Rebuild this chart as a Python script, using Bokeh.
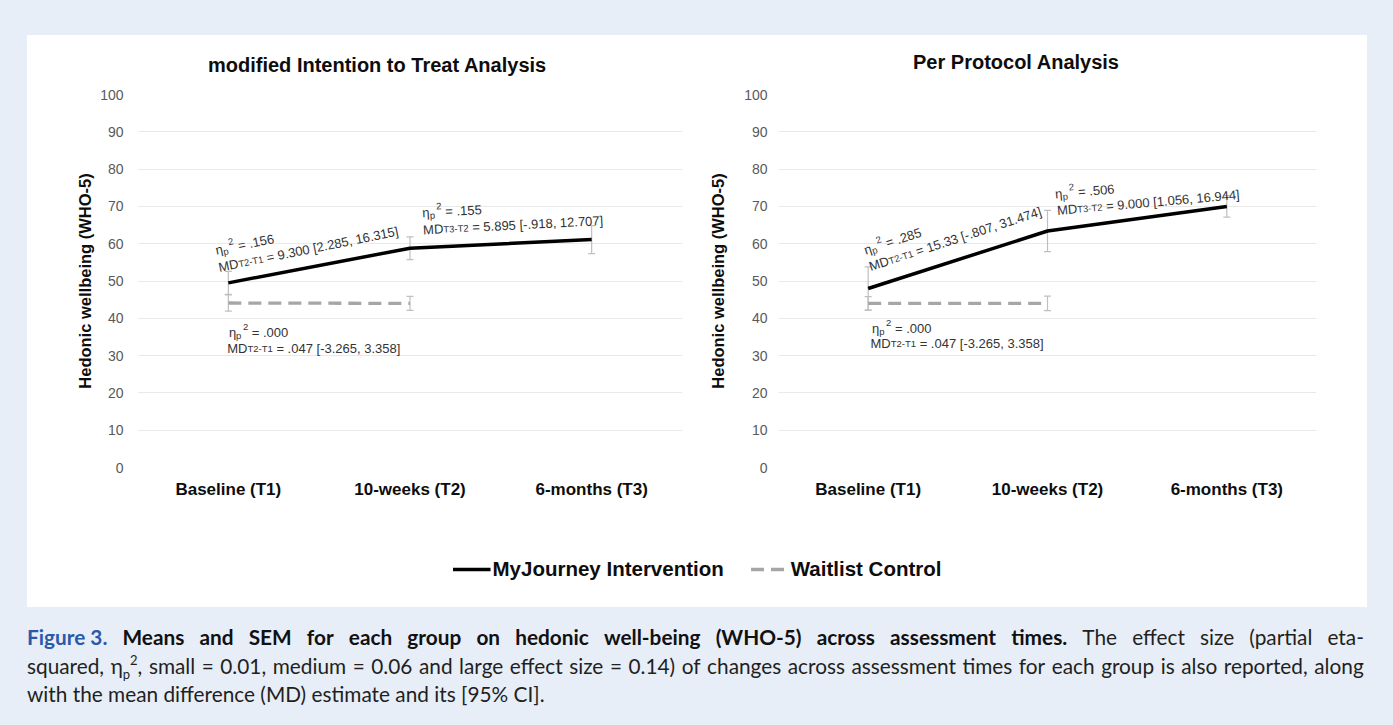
import math
from bokeh.plotting import figure
from bokeh.models import (FactorRange, Range1d, ColumnDataSource, Whisker, TeeHead,
                          FixedTicker, Legend, LegendItem, Div)
from bokeh.layouts import column, row
from bokeh.core.properties import value
from bokeh.embed import file_html
from bokeh.resources import INLINE

# ---------------- data ----------------
categories = ["Baseline (T1)", "10-weeks (T2)", "6-months (T3)"]
y_ticks = [0, 10, 20, 30, 40, 50, 60, 70, 80, 90, 100]

itt_title = "modified Intention to Treat Analysis"
itt_intervention_mean = [49.5, 58.8, 61.1]
itt_intervention_sem = [3.1, 3.05, 3.75]
itt_control_mean = [44.1, 44.0]
itt_control_sem = [2.2, 1.9]
itt_eta = [".156", ".155", ".000"]
itt_md_sub = ["T2-T1", "T3-T2", "T2-T1"]
itt_md = ["9.300 [2.285, 16.315]", "5.895 [-.918, 12.707]", ".047 [-3.265, 3.358]"]

pp_title = "Per Protocol Analysis"
pp_intervention_mean = [48.0, 63.4, 70.0]
pp_intervention_sem = [5.8, 5.55, 2.9]
pp_control_mean = [44.0, 44.0]
pp_control_sem = [1.8, 1.95]
pp_eta = [".285", ".506", ".000"]
pp_md_sub = ["T2-T1", "T3-T2", "T2-T1"]
pp_md = ["15.33 [-.807, 31.474]", "9.000 [1.056, 16.944]", ".047 [-3.265, 3.358]"]

series_names = ["MyJourney Intervention", "Waitlist Control"]

caption_lines = [
    [("Figure\u00a03.", "fig"),
     ("Means and SEM for each group on hedonic well-being (WHO-5) across assessment times.", "bold"),
     ("The effect size (partial eta-", "normal")],
    [("squared, ηp2, small = 0.01, medium = 0.06 and large effect size = 0.14) "
      "of changes across assessment times for each group is also reported, along", "normal")],
    [("with the mean difference (MD) estimate and its [95% CI].", "normal")],
]

# ---------------- styling / layout ----------------
FONT = "Liberation Sans"
PAGE_BG = "#e7eef8"
GRID = "#e9e9e9"
ERR = "#bfbfbf"
CTRL = "#a6a6a6"

ETA_HTML = ('η<span style="position:relative;top:5px;font-size:13px;">p</span>'
            '<span style="position:relative;top:-9px;font-size:13px;">2</span>,')

# annotation anchors: (eta_x, eta_y, md_x, md_y, angle_deg)
itt_annot_layout = [(0.430, 58.2, 0.446, 53.6, 11.5),
                    (1.568, 68.3, 1.572, 63.7, 3.0),
                    (0.503, 36.3, 0.494, 32.0, 0.0)]
pp_annot_layout = [(0.479, 58.2, 0.507, 53.8, 18.0),
                   (1.543, 73.3, 1.553, 68.9, 5.0),
                   (0.522, 37.3, 0.513, 33.3, 0.0)]

EM = {'M': 0.833, 'D': 0.722, 'T': 0.611, '1': 0.556, '2': 0.556, '3': 0.556,
      '-': 0.333, 'η': 0.556, 'p': 0.556, ' ': 0.278, '=': 0.584}


def text_width(s, size):
    return sum(EM.get(c, 0.556) for c in s) * size


def rich_text(p, x, y, angle_deg, segments, color="#333333"):
    th = math.radians(angle_deg)
    d = 0.0
    for txt, size, shift, pre in segments:
        d += pre
        xo = d * math.cos(th) + shift * math.sin(th)
        yo = -d * math.sin(th) + shift * math.cos(th)
        p.text(x=[x], y=[y], text=[txt], angle=th, x_offset=xo, y_offset=yo,
               text_font=value(FONT), text_font_size=f"{size}px",
               text_color=color, text_align="left", text_baseline="alphabetic")
        d += text_width(txt, size)


def make_panel(im, isem, cm, csem, etas, subs, mds, layout, borders,
               tick_standoff, label_standoff):
    bl, br, bt, bb = borders
    p = figure(x_range=FactorRange(factors=categories), y_range=Range1d(0, 100),
               width=670, height=451, output_backend="svg", toolbar_location=None,
               min_border_left=bl, min_border_right=br, min_border_top=bt,
               min_border_bottom=bb)
    p.background_fill_color = "white"
    p.border_fill_color = "white"
    p.outline_line_color = None

    p.xgrid.grid_line_color = None
    p.ygrid.grid_line_color = GRID
    p.ygrid.grid_line_width = 1
    p.yaxis.ticker = FixedTicker(ticks=y_ticks)

    for ax in (p.xaxis[0], p.yaxis[0]):
        ax.axis_line_color = None
        ax.major_tick_line_color = None
        ax.minor_tick_line_color = None
        ax.major_tick_out = 0
        ax.major_tick_in = 0
    p.yaxis.major_label_text_font = FONT
    p.yaxis.major_label_text_font_size = "14px"
    p.yaxis.major_label_text_color = "#595959"
    p.yaxis.major_label_standoff = tick_standoff
    p.yaxis.axis_label = "Hedonic wellbeing (WHO-5)"
    p.yaxis.axis_label_text_font = FONT
    p.yaxis.axis_label_text_font_size = "16.5px"
    p.yaxis.axis_label_text_font_style = "bold"
    p.yaxis.axis_label_text_color = "#0d0d0d"
    p.yaxis.axis_label_standoff = label_standoff
    p.xaxis.major_label_text_font = FONT
    p.xaxis.major_label_text_font_size = "17px"
    p.xaxis.major_label_text_font_style = "bold"
    p.xaxis.major_label_text_color = "#0d0d0d"
    p.xaxis.major_label_standoff = 12

    src_i = ColumnDataSource(dict(x=categories[:len(im)], y=im,
                                  upper=[m + s for m, s in zip(im, isem)],
                                  lower=[m - s for m, s in zip(im, isem)]))
    src_c = ColumnDataSource(dict(x=categories[:len(cm)], y=cm,
                                  upper=[m + s for m, s in zip(cm, csem)],
                                  lower=[m - s for m, s in zip(cm, csem)]))
    for src in (src_c, src_i):
        w = Whisker(source=src, base="x", upper="upper", lower="lower",
                    line_color=ERR, line_width=1.2, level="underlay",
                    upper_head=TeeHead(size=7, line_color=ERR, line_width=1.2),
                    lower_head=TeeHead(size=7, line_color=ERR, line_width=1.2))
        p.add_layout(w)

    p.line(x="x", y="y", source=src_c, line_color=CTRL, line_width=3.3,
           line_dash="13 7", line_cap="butt")
    p.line(x="x", y="y", source=src_i, line_color="black", line_width=3.5)

    sp13 = text_width(" ", 13)
    for eta, sub, md, (ex, ey, mx, my, ang) in zip(etas, subs, mds, layout):
        rich_text(p, ex, ey, ang, [("η", 13, 0, 0), ("p", 9.5, 3, 0),
                                   ("2", 9.5, -5.5, 1.5), ("= " + eta, 13, 0, sp13)])
        rich_text(p, mx, my, ang, [("MD", 13, 0, 0), (sub, 9.5, 0.5, 0),
                                   ("= " + md, 13, 0, sp13)])
    return p


def title_div(text, pad_top, pad_left):
    html = (f'<div style="font-family:\'Liberation Sans\', Arial, sans-serif; '
            f'font-weight:bold; font-size:20px; line-height:24px; color:#0d0d0d; '
            f'padding:{pad_top}px 0 0 {pad_left}px; white-space:nowrap;">{text}</div>')
    return Div(text=html, width=670, height=44, margin=(0, 0, 0, 0))


left = make_panel(itt_intervention_mean, itt_intervention_sem,
                  itt_control_mean, itt_control_sem, itt_eta, itt_md_sub, itt_md,
                  itt_annot_layout, (110, 15, 15, 62), 14, 3)
right = make_panel(pp_intervention_mean, pp_intervention_sem,
                   pp_control_mean, pp_control_sem, pp_eta, pp_md_sub, pp_md,
                   pp_annot_layout, (81, 51, 13, 63), 11, 14)
titles = row(title_div(itt_title, 18, 181), title_div(pp_title, 15, 216))

# legend strip
lg = figure(width=1340, height=77, output_backend="svg", toolbar_location=None,
            min_border=0, x_range=Range1d(0, 1), y_range=Range1d(0, 1))
lg.axis.visible = False
lg.grid.visible = False
lg.outline_line_color = None
lg.background_fill_color = "white"
lg.border_fill_color = "white"
nan = float("nan")
r1 = lg.line(x=[nan], y=[nan], line_color="black", line_width=3.5)
r2 = lg.line(x=[nan], y=[nan], line_color=CTRL, line_width=3.3, line_dash="13 7")
legend = Legend(items=[LegendItem(label=series_names[0], renderers=[r1]),
                       LegendItem(label=series_names[1], renderers=[r2])],
                orientation="horizontal", location="center",
                label_text_font=FONT, label_text_font_size="20.5px",
                label_text_font_style="bold", label_text_color="#0d0d0d",
                glyph_width=38, glyph_height=20, label_standoff=2, spacing=27,
                padding=0, margin=0, border_line_color=None,
                background_fill_alpha=0)
lg.add_layout(legend, "center")

# caption
STY = {"fig": "color:#2b5aa8;font-weight:bold;",
       "bold": "font-weight:bold;color:#111;",
       "normal": "color:#231f20;"}
parts = []
for i, line in enumerate(caption_lines):
    words = []
    for txt, st in line:
        for w_ in txt.split(" "):
            inner = ETA_HTML if w_ == "ηp2," else w_
            words.append(f'<span style="{STY[st]}">{inner}</span>')
    if i < len(caption_lines) - 1:
        parts.append('<div style="display:flex;justify-content:space-between;'
                     'white-space:nowrap;height:28.5px;">' + "".join(words) + '</div>')
    else:
        parts.append('<div style="white-space:nowrap;height:28.5px;">'
                     + " ".join(words) + '</div>')
caption_html = ('<div style="font-family:Lato, sans-serif; font-size:20.8px; '
                'line-height:28.5px; width:1337px;">' + "".join(parts) + '</div>')
caption = Div(text=caption_html, width=1340, margin=(16, 0, 0, 27))

panel = column(titles, row(left, right), lg, margin=(35, 0, 0, 27),
               styles={"background-color": "white"})
page = column(panel, caption, width=1393, height=725,
              styles={"background-color": PAGE_BG})

open("out.html", "w").write(file_html(page, INLINE))
